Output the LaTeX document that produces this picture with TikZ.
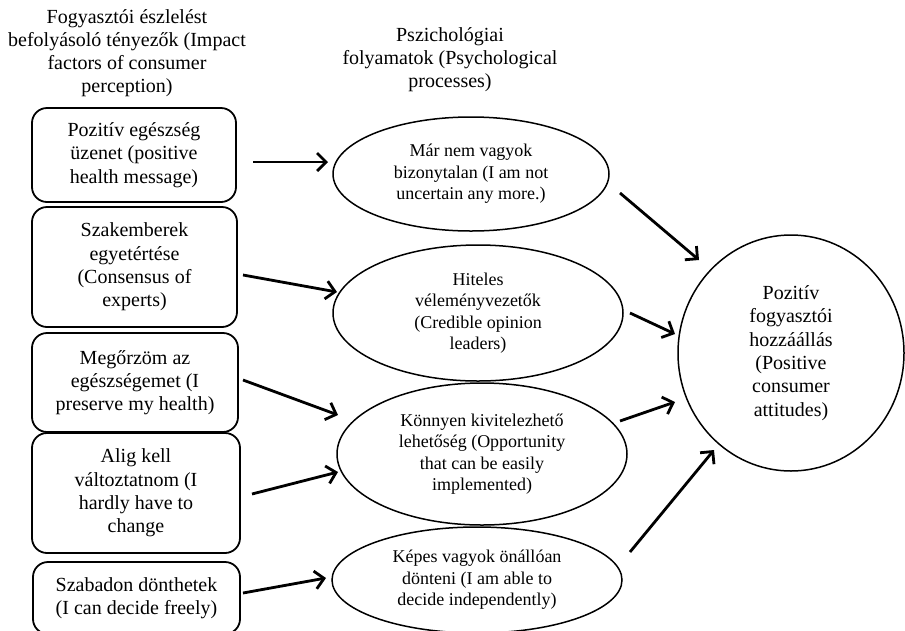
\documentclass[tikz,border=0pt]{standalone}
\usepackage{fontspec}
\setmainfont{Liberation Serif}
\usetikzlibrary{shapes.geometric,arrows.meta,calc}
\begin{document}
\begin{tikzpicture}[x=1pt,y=-1pt,
 box/.style={draw,line width=1.8pt,rounded corners=15pt,align=center,inner sep=0pt,outer sep=0pt,font=\fontsize{20}{23.3}\selectfont},
 oval/.style={draw,ellipse,line width=1.5pt,align=center,inner sep=0pt,outer sep=0pt,font=\fontsize{18}{21.5}\selectfont},
 head/.style={align=center,inner sep=0pt,font=\fontsize{20}{23}\selectfont},
 arr/.style={line width=2.8pt,-{Straight Barb[length=9pt,width=18pt]}}]
\useasboundingbox (0,0) rectangle (905,630);
\clip (0,0) rectangle (905,630);

% headers
\node[head] (h1) at (127,53) {Fogyasztói észlelést\\befolyásoló tényezők (Impact\\factors of consumer\\perception)};
\node[head] (h2) at (450,60) {Pszichológiai\\folyamatok (Psychological\\processes)};

% left boxes
\node[box,minimum width=204pt,minimum height=94pt] (b1) at (134,155) {Pozitív egészség\\üzenet (positive\\health message)};
\node[box,minimum width=205pt,minimum height=120pt] (b2) at (134.5,267) {Szakemberek\\egyetértése\\(Consensus of\\experts)};
\node[box,minimum width=206pt,minimum height=99pt] (b3) at (135,382.5) {Megőrzöm az\\egészségemet (I\\preserve my health)};
\node[box,minimum width=208pt,minimum height=120pt] (b4) at (136,493) {Alig kell\\változtatnom (I\\hardly have to\\change};
\node[box,minimum width=207pt,minimum height=72pt] (b5) at (136.5,598) {Szabadon dönthetek\\(I can decide freely)};

% middle ellipses
\node[oval,minimum width=276pt,minimum height=114pt] (e1) at (471,174) {Már nem vagyok\\bizonytalan (I am not\\uncertain any more.)};
\node[oval,minimum width=290pt,minimum height=136pt] (e2) at (478,313) {Hiteles\\véleményvezetők\\(Credible opinion\\leaders)};
\node[oval,minimum width=290pt,minimum height=142pt] (e3) at (482,454) {Könnyen kivitelezhető\\lehetőség (Opportunity\\that can be easily\\implemented)};
\node[oval,minimum width=290pt,minimum height=106pt] (e4) at (477,580) {Képes vagyok önállóan\\dönteni (I am able to\\decide independently)};

% right circle
\node[draw,ellipse,line width=1.5pt,align=center,inner sep=0pt,outer sep=0pt,minimum width=226pt,minimum height=236pt,font=\fontsize{20}{23.3}\selectfont] (c) at (791,353) {Pozitív\\fogyasztói\\hozzáállás\\(Positive\\consumer\\attitudes)};

% arrows left -> middle
\draw[arr] ([shift={(17,7)}]b1.east) -- ([shift={(-5,-12)}]e1.west);
\draw[arr] ([shift={(6,8)}]b2.east) -- ([shift={(4,-21)}]e2.west);
\draw[arr] ([shift={(5,-2.5)}]b3.east) -- ([shift={(1,-39)}]e3.west);
\draw[arr] ([shift={(12,1)}]b4.east) -- ([shift={(1,18)}]e3.west);
\draw[arr] ([shift={(3,-5)}]b5.east) -- ([shift={(-6,-2)}]e4.west);

% arrows middle -> right
\draw[arr] ([shift={(11,19)}]e1.east) -- ([shift={(21,-93)}]c.west);
\draw[arr] ([shift={(7,0)}]e2.east) -- ([shift={(-3,-19)}]c.west);
\draw[arr] ([shift={(-7,-33)}]e3.east) -- ([shift={(-3,49)}]c.west);
\draw[arr] ([shift={(8,-28)}]e4.east) -- ([shift={(36,97)}]c.west);
\end{tikzpicture}
\end{document}
